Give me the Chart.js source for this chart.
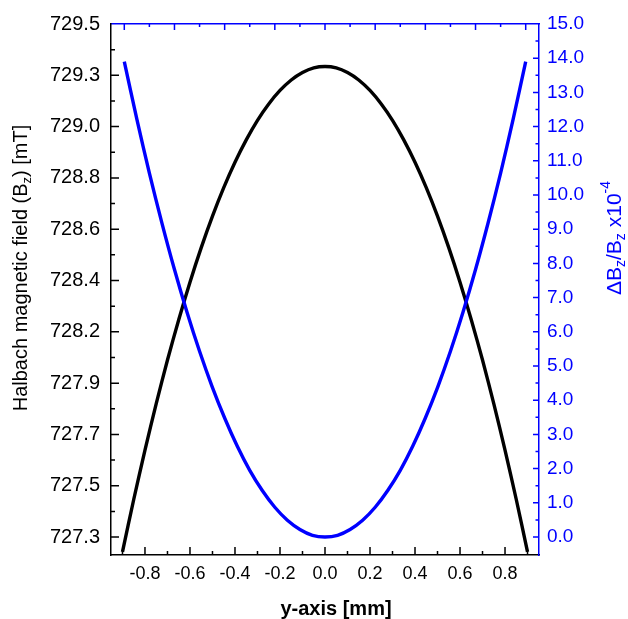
<!doctype html>
<html lang="en">
<head>
<meta charset="utf-8">
<title>Halbach field profile</title>
<style>
  * { margin: 0; padding: 0; }
  body { background: #ffffff; }
  .chartBox { width: 628px; height: 619px; }
</style>
</head>
<body>
<div class="chartBox"><canvas id="myChart" width="628" height="619"></canvas></div>
<script src="https://cdn.jsdelivr.net/npm/chart.js"></script>
<script>
// Bz along the y-axis (bottom axis, mm) in mT
const posField = [-0.90, -0.85, -0.80, -0.75, -0.70, -0.65, -0.60, -0.55, -0.50, -0.45,
  -0.40, -0.35, -0.30, -0.25, -0.20, -0.15, -0.10, -0.05, 0.00,
  0.05, 0.10, 0.15, 0.20, 0.25, 0.30, 0.35, 0.40, 0.45, 0.50,
  0.55, 0.60, 0.65, 0.70, 0.75, 0.80, 0.85, 0.90];
const field = [727.216, 727.441, 727.653, 727.852, 728.039, 728.212, 728.373, 728.521, 728.656, 728.778,
  728.887, 728.983, 729.067, 729.137, 729.195, 729.240, 729.272, 729.292, 729.298,
  729.292, 729.272, 729.240, 729.195, 729.137, 729.067, 728.983, 728.887, 728.778,
  728.656, 728.521, 728.373, 728.212, 728.039, 727.852, 727.653, 727.441, 727.216];

// dBz/Bz (x1e-4) on the top axis (mm)
const posDev = [-0.80, -0.75, -0.70, -0.65, -0.60, -0.55, -0.50, -0.45, -0.40, -0.35,
  -0.30, -0.25, -0.20, -0.15, -0.10, -0.05, 0.00,
  0.05, 0.10, 0.15, 0.20, 0.25, 0.30, 0.35, 0.40, 0.45, 0.50,
  0.55, 0.60, 0.65, 0.70, 0.75, 0.80];
const deviation = [13.90, 12.22, 10.64, 9.18, 7.82, 6.57, 5.43, 4.40, 3.48, 2.66,
  1.95, 1.36, 0.87, 0.49, 0.22, 0.05, 0.00,
  0.05, 0.22, 0.49, 0.87, 1.36, 1.95, 2.66, 3.48, 4.40, 5.43,
  6.57, 7.82, 9.18, 10.64, 12.22, 13.90];

// tick values
const posTicks = [-0.8, -0.6, -0.4, -0.2, 0, 0.2, 0.4, 0.6, 0.8];
const fieldTicks = [729.48, 729.26, 729.04, 728.82, 728.60, 728.38, 728.16, 727.94, 727.72, 727.50, 727.28];
const devTicks = [0, 1, 2, 3, 4, 5, 6, 7, 8, 9, 10, 11, 12, 13, 14, 15];

const BLUE = '#0000ff';
const FONT = "'Liberation Sans', Arial, sans-serif";
Chart.defaults.font.family = FONT;

// inward tick marks, major + minor halfway between
const tickStyle = {
  x:    { side: 'bottom', major: 8, minor: 4, color: '#000000' },
  xTop: { side: 'top',    major: 6, minor: 3, color: BLUE },
  y:    { side: 'left',   major: 8, minor: 4, color: '#000000' },
  y2:   { side: 'right',  major: 6, minor: 3.5, color: BLUE }
};

const innerTicks = {
  id: 'innerTicks',
  beforeDatasetsDraw(chart) {
    const { ctx, chartArea: a } = chart;
    ctx.save();
    ctx.lineWidth = 1.5;
    for (const id in tickStyle) {
      const s = chart.scales[id], st = tickStyle[id];
      const vals = s.ticks.map(t => t.value);
      const step = vals[1] - vals[0];
      const marks = vals.map(v => [v, st.major]);
      for (let i = -1; i < vals.length; i++) marks.push([vals[0] + step * (i + 0.5), st.minor]);
      ctx.strokeStyle = st.color;
      ctx.beginPath();
      for (const [v, len] of marks) {
        const p = s.getPixelForValue(v);
        if (st.side === 'bottom' || st.side === 'top') {
          if (p < a.left + 3 || p > a.right - 3) continue;
          const y0 = st.side === 'bottom' ? a.bottom : a.top;
          const dir = st.side === 'bottom' ? -1 : 1;
          ctx.moveTo(p, y0);
          ctx.lineTo(p, y0 + dir * len);
        } else {
          if (p < a.top + 3 || p > a.bottom - 3) continue;
          const x0 = st.side === 'left' ? a.left : a.right;
          const dir = st.side === 'left' ? 1 : -1;
          ctx.moveTo(x0, p);
          ctx.lineTo(x0 + dir * len, p);
        }
      }
      ctx.stroke();
    }
    ctx.restore();
  }
};

// text runs with sub/superscripts
function drawRich(ctx, runs, x, y, rot, color) {
  ctx.save();
  ctx.translate(x, y);
  ctx.rotate(rot);
  ctx.fillStyle = color;
  ctx.textBaseline = 'middle';
  ctx.textAlign = 'left';
  let w = 0;
  for (const r of runs) {
    ctx.font = (r.bold ? 'bold ' : '') + r.size + 'px ' + FONT;
    r.w = ctx.measureText(r.t).width;
    w += r.w;
  }
  let cx = -w / 2;
  for (const r of runs) {
    ctx.font = (r.bold ? 'bold ' : '') + r.size + 'px ' + FONT;
    ctx.fillText(r.t, cx, r.dy || 0);
    cx += r.w;
  }
  ctx.restore();
}

const axisTitles = {
  id: 'axisTitles',
  afterDraw(chart) {
    const ctx = chart.ctx;
    drawRich(ctx, [
      { t: 'Halbach magnetic field (B', size: 20 },
      { t: 'z', size: 13, dy: 6 },
      { t: ') [mT]', size: 20 }
    ], 21, 268, -Math.PI / 2, '#000000');
    drawRich(ctx, [
      { t: '\u0394B', size: 21 },
      { t: 'z', size: 14, dy: 6 },
      { t: '/B', size: 21 },
      { t: 'z', size: 14, dy: 6 },
      { t: ' x10', size: 21 },
      { t: '-4', size: 14, dy: -9 }
    ], 615, 238, -Math.PI / 2, BLUE);
    drawRich(ctx, [{ t: 'y-axis [mm]', size: 20, bold: true }], 336, 609, 0, '#000000');
  }
};

const label1 = v => v.toFixed(1);

const config = {
  type: 'line',
  data: {
    datasets: [
      {
        label: 'Bz',
        data: posField.map((x, i) => ({ x: x, y: field[i] })),
        xAxisID: 'x',
        yAxisID: 'y',
        borderColor: '#000000',
        borderWidth: 3.4,
        pointRadius: 0,
        tension: 0.3,
        order: 2
      },
      {
        label: 'dBz/Bz',
        data: posDev.map((x, i) => ({ x: x, y: deviation[i] })),
        xAxisID: 'xTop',
        yAxisID: 'y2',
        borderColor: BLUE,
        borderWidth: 3.4,
        pointRadius: 0,
        tension: 0.3,
        order: 1
      }
    ]
  },
  options: {
    responsive: false,
    animation: false,
    plugins: { legend: { display: false }, tooltip: { enabled: false } },
    scales: {
      x: {
        type: 'linear',
        position: 'bottom',
        min: -0.951,
        max: 0.951,
        afterBuildTicks: s => { s.ticks = posTicks.map(v => ({ value: v })); },
        afterFit: s => { s.height = 64; },
        ticks: { callback: label1, color: '#000000', font: { size: 18 }, padding: 8, maxRotation: 0, autoSkip: false },
        grid: { display: false, drawTicks: false },
        border: { color: '#000000', width: 1.5 }
      },
      xTop: {
        type: 'linear',
        position: 'top',
        min: -0.853,
        max: 0.853,
        afterBuildTicks: s => { s.ticks = posTicks.map(v => ({ value: v })); },
        afterFit: s => { s.height = 24; },
        ticks: { display: false },
        grid: { display: false, drawTicks: false },
        border: { color: BLUE, width: 1.5 }
      },
      y: {
        type: 'linear',
        position: 'left',
        min: 727.203,
        max: 729.48,
        afterBuildTicks: s => { s.ticks = fieldTicks.map(v => ({ value: v })); },
        afterFit: s => { s.width = 111; },
        ticks: { callback: label1, color: '#000000', font: { size: 20 }, padding: 11, autoSkip: false },
        grid: { display: false, drawTicks: false },
        border: { color: '#000000', width: 1.5 }
      },
      y2: {
        type: 'linear',
        position: 'right',
        min: -0.526,
        max: 15,
        afterBuildTicks: s => { s.ticks = devTicks.map(v => ({ value: v })); },
        afterFit: s => { s.width = 89; },
        ticks: { callback: label1, color: BLUE, font: { size: 19 }, padding: 8, autoSkip: false },
        grid: { display: false, drawTicks: false },
        border: { color: BLUE, width: 1.5 }
      }
    }
  },
  plugins: [innerTicks, axisTitles]
};

const myChart = new Chart(document.getElementById('myChart'), config);
</script>
</body>
</html>
